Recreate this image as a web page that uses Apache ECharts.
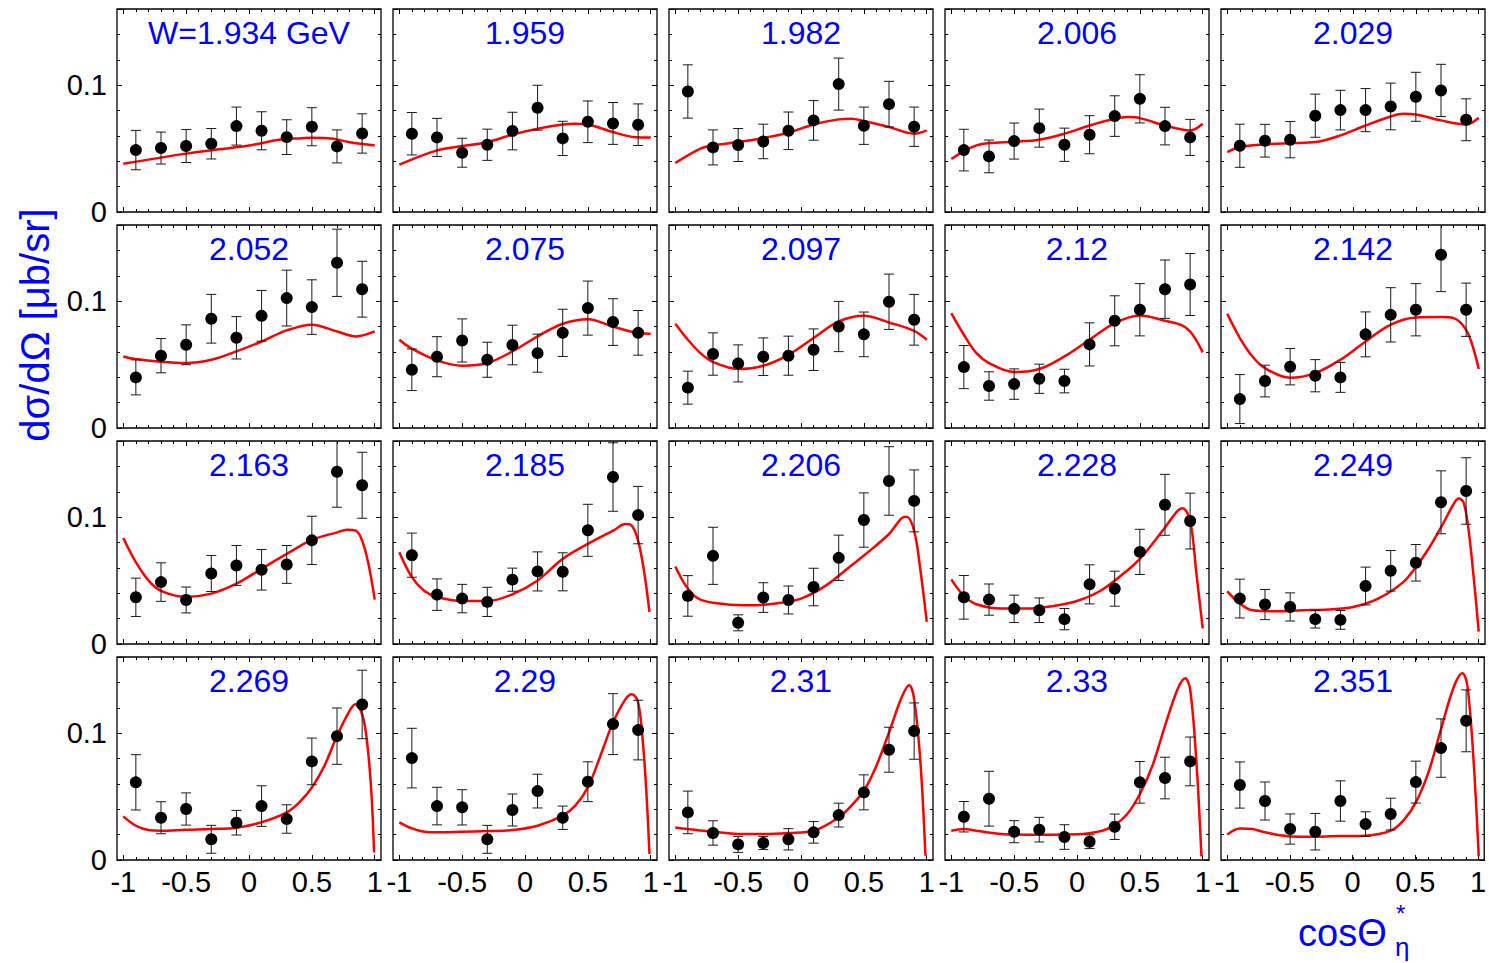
<!DOCTYPE html>
<html><head><meta charset="utf-8">
<script src="https://cdn.jsdelivr.net/npm/echarts@6/dist/echarts.min.js"></script>
<style>html,body{margin:0;padding:0;background:#fff}#c{width:1489px;height:963px}</style>
</head><body><div id="c"></div>
<script>
// ---------------- DATA ----------------
const W_LABELS = ['W=1.934 GeV','1.959','1.982','2.006','2.029','2.052','2.075','2.097','2.12','2.142',
                  '2.163','2.185','2.206','2.228','2.249','2.269','2.29','2.31','2.33','2.351'];
const COS_BINS = [-0.9,-0.7,-0.5,-0.3,-0.1,0.1,0.3,0.5,0.7,0.9];
const X_TICK_LABELS = ['-1','-0.5','0','0.5','1'];
const Y_TICK_LABELS = ['0','0.1'];
const Y_TITLE = 'dσ/dΩ [μb/sr]';

const dsig = [
 [0.0488,0.0504,0.052,0.0538,0.0677,0.064,0.059,0.0672,0.0517,0.0619],
 [0.0617,0.0588,0.0467,0.053,0.0638,0.0822,0.058,0.0711,0.0698,0.0688],
 [0.095,0.0509,0.0528,0.0556,0.064,0.0722,0.1008,0.068,0.085,0.0672],
 [0.0488,0.0438,0.0559,0.0661,0.053,0.0609,0.0756,0.0892,0.0677,0.0588],
 [0.0522,0.0562,0.057,0.0759,0.0803,0.0803,0.0832,0.0908,0.0958,0.0727],
 [0.0399,0.057,0.0656,0.0861,0.0711,0.0884,0.1024,0.0953,0.1302,0.1094],
 [0.0459,0.0562,0.069,0.0538,0.0654,0.059,0.075,0.0945,0.0835,0.075],
 [0.0318,0.0583,0.0509,0.0562,0.057,0.0617,0.08,0.0738,0.0995,0.0853],
 [0.048,0.0331,0.0346,0.0388,0.037,0.0659,0.0845,0.0932,0.1094,0.1131],
 [0.0228,0.037,0.0483,0.0412,0.0399,0.0738,0.0892,0.0932,0.1365,0.0932],
 [0.0368,0.0488,0.0347,0.0556,0.0619,0.0585,0.0627,0.0817,0.1358,0.1251],
 [0.07,0.0389,0.0358,0.0332,0.0507,0.0572,0.0569,0.0896,0.1316,0.1016],
 [0.0379,0.0695,0.0167,0.0366,0.0347,0.0449,0.0679,0.0977,0.1285,0.1128],
 [0.0368,0.035,0.0277,0.0266,0.0196,0.047,0.0436,0.0726,0.1097,0.0969],
 [0.0358,0.0311,0.0292,0.0196,0.019,0.0457,0.0577,0.064,0.1117,0.1206],
 [0.0612,0.0333,0.0402,0.0163,0.0294,0.0425,0.0323,0.0777,0.0976,0.1226],
 [0.0803,0.0425,0.0415,0.0163,0.0394,0.0543,0.0333,0.0617,0.1071,0.1024],
 [0.0375,0.0213,0.0123,0.0134,0.0163,0.0218,0.0354,0.0533,0.0869,0.1016],
 [0.0341,0.0483,0.0223,0.0239,0.0181,0.0144,0.0262,0.0612,0.0646,0.0777],
 [0.0591,0.0465,0.0244,0.0223,0.0465,0.0283,0.0362,0.0614,0.0882,0.1097]
];
const dsigErr = [
 [0.0155,0.0126,0.013,0.012,0.015,0.015,0.0137,0.015,0.013,0.0155],
 [0.0167,0.015,0.0114,0.0123,0.0148,0.0177,0.0135,0.0164,0.0165,0.0164],
 [0.021,0.0138,0.013,0.0136,0.0148,0.0156,0.0205,0.0147,0.018,0.0155],
 [0.0164,0.0129,0.0142,0.015,0.0131,0.015,0.016,0.019,0.0148,0.0142],
 [0.017,0.0129,0.0143,0.017,0.0156,0.017,0.0184,0.0193,0.0206,0.0165],
 [0.0138,0.0135,0.0157,0.0192,0.0167,0.02,0.022,0.0215,0.0265,0.022],
 [0.0164,0.0158,0.017,0.0138,0.0156,0.015,0.0186,0.0213,0.0184,0.0176],
 [0.013,0.0167,0.0146,0.0148,0.0154,0.0164,0.0198,0.0176,0.0218,0.02],
 [0.017,0.0112,0.012,0.0115,0.0093,0.017,0.0197,0.0206,0.023,0.0244],
 [0.0193,0.0125,0.0143,0.0127,0.0118,0.0177,0.0214,0.0206,0.029,0.021],
 [0.0151,0.0152,0.0102,0.0142,0.0157,0.016,0.0149,0.019,0.028,0.026],
 [0.0174,0.0124,0.0112,0.0115,0.0091,0.0154,0.015,0.0205,0.027,0.0226],
 [0.016,0.0225,0.0063,0.0117,0.011,0.0148,0.0179,0.0214,0.027,0.0244],
 [0.0172,0.0123,0.0108,0.0097,0.0084,0.0154,0.0138,0.0178,0.024,0.022],
 [0.0153,0.0119,0.0111,0.007,0.0074,0.0149,0.016,0.0144,0.0248,0.0262],
 [0.0218,0.0126,0.0127,0.011,0.0097,0.016,0.0112,0.0184,0.0222,0.027],
 [0.0235,0.0148,0.0139,0.011,0.0126,0.0133,0.0092,0.0157,0.024,0.0235],
 [0.0168,0.0096,0.0063,0.0052,0.0084,0.0085,0.0094,0.0138,0.0177,0.0222],
 [0.012,0.0216,0.0087,0.0097,0.0097,0.0054,0.01,0.0164,0.0164,0.0192],
 [0.0182,0.015,0.0119,0.0144,0.0159,0.0097,0.0125,0.0165,0.023,0.0244]
];
const fitX = [
 [-1,-0.5,0,0.3,0.4,0.5,0.67,0.8,1],
 [-1,-0.7,-0.5,-0.3,-0.1,0.1,0.3,0.4,0.5,0.7,0.88,1],
 [-1,-0.8,-0.7,-0.5,-0.3,-0.1,0.1,0.3,0.4,0.5,0.7,0.9,1],
 [-1,-0.9,-0.8,-0.7,-0.5,-0.3,-0.1,0.1,0.3,0.4,0.5,0.7,0.9,1],
 [-1,-0.9,-0.7,-0.5,-0.3,-0.1,0.1,0.3,0.4,0.5,0.7,0.9,1],
 [-1,-0.9,-0.7,-0.5,-0.3,-0.1,0.1,0.3,0.5,0.7,0.85,1],
 [-1,-0.9,-0.7,-0.5,-0.3,-0.1,0.1,0.3,0.5,0.7,0.9,1],
 [-1,-0.9,-0.8,-0.7,-0.5,-0.3,-0.1,0.1,0.3,0.5,0.7,0.9,1],
 [-1,-0.9,-0.8,-0.7,-0.5,-0.3,-0.1,0.1,0.3,0.5,0.7,0.84,0.92,1],
 [-1,-0.9,-0.8,-0.7,-0.5,-0.3,-0.1,0.1,0.3,0.5,0.7,0.8,0.9,0.96,1],
 [-1,-0.9,-0.8,-0.7,-0.5,-0.3,-0.1,0.1,0.3,0.5,0.7,0.78,0.85,0.9,0.95,1],
 [-1,-0.9,-0.8,-0.7,-0.5,-0.3,-0.1,0.1,0.3,0.5,0.7,0.8,0.85,0.9,0.95,0.99],
 [-1,-0.9,-0.8,-0.6,-0.4,-0.2,0,0.2,0.4,0.5,0.7,0.8,0.84,0.9,0.95,1],
 [-1,-0.9,-0.8,-0.6,-0.4,-0.2,0,0.2,0.4,0.5,0.6,0.7,0.8,0.84,0.9,0.95,1],
 [-1,-0.9,-0.8,-0.6,-0.4,-0.2,0,0.2,0.4,0.5,0.6,0.7,0.8,0.84,0.88,0.92,0.97,1],
 [-1,-0.9,-0.8,-0.7,-0.5,-0.3,-0.1,0.1,0.3,0.4,0.5,0.6,0.7,0.8,0.845,0.89,0.93,0.97,0.995],
 [-1,-0.9,-0.8,-0.7,-0.5,-0.3,-0.1,0.1,0.3,0.4,0.5,0.6,0.7,0.8,0.85,0.9,0.94,0.97,0.99],
 [-1,-0.9,-0.7,-0.5,-0.3,-0.1,0.1,0.3,0.4,0.5,0.6,0.7,0.8,0.86,0.9,0.95,0.99],
 [-1,-0.9,-0.8,-0.6,-0.4,-0.2,0,0.2,0.3,0.4,0.5,0.6,0.7,0.8,0.86,0.9,0.95,0.99],
 [-1,-0.9,-0.8,-0.7,-0.5,-0.3,-0.1,0.1,0.3,0.4,0.5,0.6,0.7,0.8,0.87,0.91,0.96,1]
];
const fitY = [
 [0.038,0.046,0.0525,0.0577,0.058,0.0585,0.0577,0.055,0.0525],
 [0.0373,0.0486,0.052,0.055,0.061,0.0656,0.069,0.0696,0.069,0.063,0.059,0.0588],
 [0.0386,0.0499,0.0525,0.0551,0.0583,0.0625,0.069,0.073,0.0735,0.0717,0.067,0.0617,0.0643],
 [0.0417,0.048,0.0525,0.0543,0.0554,0.057,0.0617,0.0682,0.0735,0.0748,0.074,0.0682,0.0643,0.0696],
 [0.0472,0.0512,0.0533,0.0543,0.0551,0.0604,0.0682,0.0753,0.0774,0.0769,0.0722,0.069,0.0743],
 [0.0564,0.0543,0.0522,0.0512,0.0538,0.0604,0.0682,0.0769,0.0814,0.0761,0.0722,0.0761],
 [0.0696,0.0625,0.0533,0.0491,0.0512,0.0604,0.0722,0.0822,0.0858,0.08,0.0748,0.0743],
 [0.0822,0.0696,0.059,0.052,0.0465,0.0491,0.0577,0.0709,0.084,0.0885,0.0832,0.0766,0.0696],
 [0.0906,0.0735,0.059,0.0512,0.0441,0.0465,0.0564,0.0696,0.0827,0.0887,0.0845,0.0806,0.0735,0.0596],
 [0.09,0.0709,0.0564,0.0472,0.0396,0.0433,0.0538,0.0682,0.0814,0.0871,0.0874,0.0866,0.0774,0.0617,0.0465],
 [0.0836,0.0645,0.0501,0.0418,0.0371,0.0397,0.0475,0.0593,0.071,0.082,0.088,0.09,0.0893,0.0815,0.0632,0.035],
 [0.0723,0.0527,0.0418,0.0371,0.0339,0.0339,0.0392,0.0501,0.0671,0.0789,0.0893,0.0945,0.0932,0.0815,0.0554,0.0253],
 [0.0611,0.0436,0.035,0.0313,0.0305,0.0319,0.0358,0.0462,0.0619,0.0697,0.0867,0.0992,0.1003,0.0893,0.058,0.0175],
 [0.0509,0.0379,0.0313,0.0279,0.0279,0.0298,0.0339,0.0428,0.058,0.0671,0.0789,0.0919,0.105,0.107,0.0971,0.0554,0.0123],
 [0.0415,0.0319,0.0266,0.0258,0.0266,0.0272,0.0292,0.0358,0.0488,0.0606,0.0749,0.0919,0.1102,0.1146,0.1115,0.0893,0.0423,0.0097],
 [0.0344,0.027,0.0236,0.0231,0.0239,0.0244,0.0255,0.0297,0.0375,0.0454,0.0572,0.0743,0.0979,0.1176,0.1228,0.1176,0.1005,0.0585,0.006],
 [0.0297,0.0249,0.0223,0.0218,0.0223,0.0228,0.0236,0.027,0.0349,0.0428,0.0572,0.0822,0.1084,0.1268,0.1307,0.1241,0.09,0.0454,0.0047],
 [0.0257,0.0244,0.0223,0.0205,0.0205,0.0213,0.0231,0.0336,0.0428,0.0546,0.0743,0.1005,0.1281,0.1378,0.1268,0.0769,0.0034],
 [0.0231,0.0244,0.0231,0.0205,0.02,0.02,0.0202,0.0231,0.0276,0.0362,0.052,0.0743,0.1058,0.1346,0.1433,0.1346,0.0769,0.0029],
 [0.02,0.0249,0.0244,0.0218,0.0186,0.0184,0.0189,0.0192,0.0231,0.031,0.0454,0.069,0.1031,0.136,0.1472,0.1373,0.0769,0.0029]
];

// ---------------- LAYOUT / STYLE ----------------
const FONT = "'Liberation Sans', Arial, Helvetica, sans-serif";
const COL_LEFT = [117, 393, 669, 945, 1221];
const ROW_TOP = [9, 225, 441, 657];
const PW = 264, PH = 203;
const X_MIN = -1.05, X_MAX = 1.05, Y_MAX = 0.16;
const BLUE = '#0000ff';

// tick positions (category centres at -1.0, -0.9, ..., 1.0)
const xCats = [];
for (let k = 0; k <= 20; k++) xCats.push((-1 + k * 0.1).toFixed(1));

const grids = [], xAxes = [], yAxes = [], series = [], graphics = [];

function catAxis(gi, pos, major, labels) {
  return {
    gridIndex: gi, type: 'category', data: xCats, position: pos, boundaryGap: true,
    axisLine: {show: false, onZero: false}, splitLine: {show: false},
    axisTick: {show: true, inside: true, alignWithLabel: true, length: major ? 5 : 3,
               interval: major ? (idx) => idx % 5 === 0 : 0,
               lineStyle: {color: '#000', width: 1}},
    axisLabel: {show: !!labels, interval: (idx) => idx % 5 === 0,
                formatter: (v, idx) => X_TICK_LABELS[idx / 5] || '',
                fontSize: 29, fontFamily: FONT, color: '#000', margin: 7}
  };
}
function valYAxis(gi, pos, interval, len, labels) {
  return {
    gridIndex: gi, type: 'value', min: 0, max: Y_MAX, interval: interval, position: pos,
    axisLine: {show: false, onZero: false}, splitLine: {show: false},
    axisTick: {show: true, inside: true, length: len, lineStyle: {color: '#000', width: 1}},
    axisLabel: {show: !!labels, fontSize: 29, fontFamily: FONT, color: '#000', margin: 10,
                formatter: (v) => Math.abs(v) < 1e-9 ? Y_TICK_LABELS[0] :
                                  (Math.abs(v - 0.1) < 1e-9 ? Y_TICK_LABELS[1] : '')}
  };
}

for (let i = 0; i < 20; i++) {
  const r = Math.floor(i / 5), c = i % 5;
  const rect = {left: COL_LEFT[c], top: ROW_TOP[r], width: PW, height: PH};
  const gA = grids.length;
  grids.push(Object.assign({show: true, borderColor: '#000', borderWidth: 1.3, backgroundColor: 'transparent'}, rect));
  const gB = grids.length;
  grids.push(Object.assign({show: false}, rect));
  const gC = grids.length;
  grids.push(Object.assign({show: false}, rect));

  // frame grid: major ticks + labels
  xAxes.push(catAxis(gA, 'bottom', true, r === 3));
  xAxes.push(catAxis(gA, 'top', true, false));
  yAxes.push(valYAxis(gA, 'left', 0.1, 5, c === 0));
  yAxes.push(valYAxis(gA, 'right', 0.1, 5, false));
  // data grid
  const xData = xAxes.length;
  xAxes.push({gridIndex: gB, type: 'value', min: X_MIN, max: X_MAX, show: false,
              axisLine: {onZero: false}});
  const yData = yAxes.length;
  yAxes.push(valYAxis(gB, 'left', 0.02, 3, false));
  yAxes.push(valYAxis(gB, 'right', 0.02, 3, false));
  // minor x ticks grid
  xAxes.push(catAxis(gC, 'bottom', false, false));
  xAxes.push(catAxis(gC, 'top', false, false));
  yAxes.push({gridIndex: gC, type: 'value', min: 0, max: Y_MAX, show: false, axisLine: {onZero: false}});

  series.push({
    type: 'line', xAxisIndex: xData, yAxisIndex: yData,
    data: fitX[i].map((x, j) => [x, fitY[i][j]]),
    showSymbol: false, smooth: 0.35, clip: true, z: 2,
    lineStyle: {color: '#ff0000', width: 2.5}, silent: true
  });
  series.push({
    type: 'custom', xAxisIndex: xData, yAxisIndex: yData, z: 3, silent: true,
    data: COS_BINS.map((x, j) => [x, dsig[i][j] - dsigErr[i][j], dsig[i][j] + dsigErr[i][j]]),
    encode: {x: 0, y: [1, 2]},
    renderItem: (params, api) => {
      const x = api.value(0), lo = api.value(1), hi = api.value(2);
      const cs = params.coordSys;
      const pLo = api.coord([x, lo]), pHi = api.coord([x, hi]);
      const top = Math.max(pHi[1], cs.y), bot = Math.min(pLo[1], cs.y + cs.height);
      const hw = 5, st = {stroke: '#1a1a1a', lineWidth: 1};
      const ch = [{type: 'line', shape: {x1: pLo[0], y1: bot, x2: pLo[0], y2: top}, style: st}];
      if (pHi[1] >= cs.y) ch.push({type: 'line', shape: {x1: pHi[0] - hw, y1: pHi[1], x2: pHi[0] + hw, y2: pHi[1]}, style: st});
      ch.push({type: 'line', shape: {x1: pLo[0] - hw, y1: pLo[1], x2: pLo[0] + hw, y2: pLo[1]}, style: st});
      return {type: 'group', children: ch};
    }
  });
  series.push({
    type: 'scatter', xAxisIndex: xData, yAxisIndex: yData, z: 4, silent: true,
    data: COS_BINS.map((x, j) => [x, dsig[i][j]]),
    symbol: 'circle', symbolSize: 12, itemStyle: {color: '#000', opacity: 1}
  });

  graphics.push({type: 'text', x: COL_LEFT[c] + PW / 2, y: ROW_TOP[r] + 24, silent: true,
    style: {text: W_LABELS[i], font: '32px ' + FONT, fill: BLUE, textAlign: 'center', textVerticalAlign: 'middle'}});
}

graphics.push({type: 'text', x: 35, y: 325, rotation: Math.PI / 2, silent: true,
  style: {text: Y_TITLE, font: '40px ' + FONT, fill: BLUE, textAlign: 'center', textVerticalAlign: 'middle'}});
graphics.push({type: 'text', x: 1298, y: 933, silent: true,
  style: {text: 'cosΘ', font: '38px ' + FONT, fill: BLUE, textAlign: 'left', textVerticalAlign: 'middle'}});
graphics.push({type: 'text', x: 1396, y: 913, silent: true,
  style: {text: '*', font: '24px ' + FONT, fill: BLUE, textAlign: 'left', textVerticalAlign: 'middle'}});
graphics.push({type: 'text', x: 1395, y: 947, silent: true,
  style: {text: 'η', font: '26px ' + FONT, fill: BLUE, textAlign: 'left', textVerticalAlign: 'middle'}});

const chart = echarts.init(document.getElementById('c'), null, {renderer: 'svg', width: 1489, height: 963});
chart.setOption({
  animation: false,
  backgroundColor: '#fff',
  textStyle: {fontFamily: FONT},
  grid: grids, xAxis: xAxes, yAxis: yAxes, series: series, graphic: graphics
});
</script></body></html>
